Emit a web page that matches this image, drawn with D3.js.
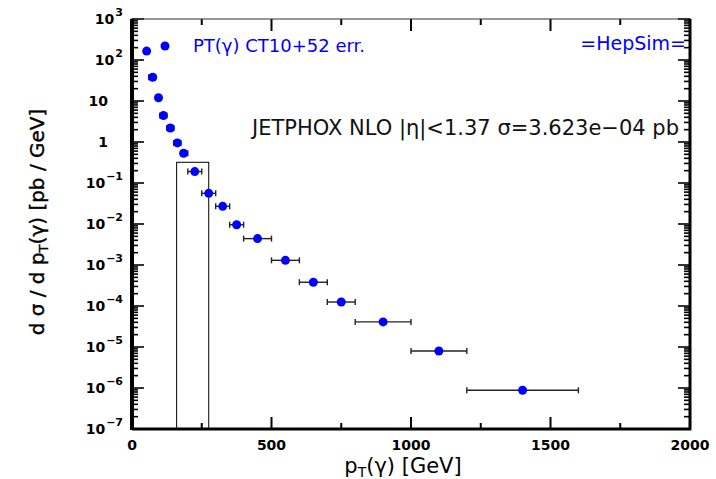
<!DOCTYPE html>
<html>
<head>
<meta charset="utf-8">
<script src="https://cdn.jsdelivr.net/npm/d3@7"></script>
<style>
  body { margin: 0; background: #fff; }
  text { font-family: "DejaVu Sans", sans-serif; }
</style>
</head>
<body>
<svg id="chart" width="716" height="479"></svg>
<script>
// bins of pT(gamma) [GeV] and cross section values [pb/GeV]
var binLo = [45, 60, 85, 100, 125, 150, 175, 200, 250, 300, 350, 400, 500, 600, 700, 800, 1000, 1200]
var binHi = [60, 85, 100, 125, 150, 175, 200, 250, 300, 350, 400, 500, 600, 700, 800, 1000, 1200, 1600]
var ptVal = [52.5, 74, 95, 112.5, 137.5, 162.5, 185, 225, 275, 325, 375, 450, 550, 650, 750, 900, 1100, 1400]
var xsec  = [165, 38, 12, 4.4, 2.2, 0.95, 0.53, 0.19, 0.056, 0.027, 0.0096, 0.0044, 0.0013, 3.8e-4, 1.25e-4, 4.1e-5, 8e-6, 8.8e-7]

// the open box drawn over the plot
var boxPt = [160, 275]
var boxTop = 0.32

var xTicks = [0, 500, 1000, 1500, 2000]
var xMinor = [250, 750, 1250, 1750]
var yExp = [-7, -6, -5, -4, -3, -2, -1, 0, 1, 2, 3]

var svg = d3.select("#chart")
var L = 132, R = 690, T = 19, B = 429

var x = d3.scaleLinear().domain([0, 2000]).range([L, R])
var y = d3.scaleLog().domain([1e-7, 1e3]).range([B, T])

// minor log ticks
var yMinor = []
yExp.slice(0, -1).forEach(function(e) {
  for (var k = 2; k <= 9; k++) yMinor.push(k * Math.pow(10, e))
})

var ax = svg.append("g")

// y ticks, left and right, pointing inward
function yTick(v, len) {
  ax.append("line").attr("x1", L).attr("x2", L + len).attr("y1", y(v)).attr("y2", y(v))
    .attr("stroke", "#000").attr("stroke-width", 1.6)
  ax.append("line").attr("x1", R).attr("x2", R - len).attr("y1", y(v)).attr("y2", y(v))
    .attr("stroke", "#000").attr("stroke-width", 1.6)
}
yMinor.forEach(function(v) { yTick(v, 6) })
yExp.forEach(function(e) { yTick(Math.pow(10, e), 12) })

function xTick(v, len) {
  ax.append("line").attr("x1", x(v)).attr("x2", x(v)).attr("y1", B).attr("y2", B - len)
    .attr("stroke", "#000").attr("stroke-width", 2)
  ax.append("line").attr("x1", x(v)).attr("x2", x(v)).attr("y1", T).attr("y2", T + len)
    .attr("stroke", "#000").attr("stroke-width", 2)
}
xMinor.forEach(function(v) { xTick(v, 6) })
xTicks.forEach(function(v) { xTick(v, 12) })

// frame
ax.append("line").attr("x1", L - 1).attr("x2", R + 1).attr("y1", T).attr("y2", T).attr("stroke", "#333").attr("stroke-width", 1.2)
ax.append("line").attr("x1", L).attr("x2", R + 1).attr("y1", B).attr("y2", B).attr("stroke", "#000").attr("stroke-width", 3)
ax.append("line").attr("x1", L).attr("x2", L).attr("y1", T).attr("y2", B + 1).attr("stroke", "#000").attr("stroke-width", 4)
ax.append("line").attr("x1", R).attr("x2", R).attr("y1", T).attr("y2", B + 1).attr("stroke", "#000").attr("stroke-width", 3)

// x tick labels
xTicks.forEach(function(v) {
  ax.append("text").attr("x", x(v)).attr("y", 450).attr("text-anchor", "middle")
    .style("font-size", "14px").style("font-weight", "bold").text(v)
})

// y tick labels
yExp.forEach(function(e) {
  var t = ax.append("text").attr("y", y(Math.pow(10, e)) + 5).attr("text-anchor", "end")
    .style("font-size", "14px").style("font-weight", "bold")
  if (e === 0 || e === 1) {
    t.attr("x", 108).text(e === 0 ? "1" : "10")
  } else {
    t.attr("x", 123)
    t.append("tspan").text("10")
    t.append("tspan").attr("dx", 1).attr("dy", -8).style("font-size", "11px").text(e < 0 ? "\u2212" + (-e) : e)
  }
})

// axis titles
var xt = svg.append("text").attr("x", 403).attr("y", 473).attr("text-anchor", "middle").style("font-size", "21px")
xt.append("tspan").text("p")
xt.append("tspan").attr("dy", 4).style("font-size", "14px").text("T")
xt.append("tspan").attr("dy", -4).text("(\u03b3) [GeV]")

var yt = svg.append("text").attr("transform", "translate(44,222) rotate(-90)").attr("text-anchor", "middle")
  .style("font-size", "20px").style("stroke", "#000").style("stroke-width", 0.4)
yt.append("tspan").text("d \u03c3 / d p")
yt.append("tspan").attr("dy", 4).style("font-size", "13px").text("T")
yt.append("tspan").attr("dy", -4).text("(\u03b3) [pb / GeV]")

// box
svg.append("rect").attr("x", x(boxPt[0])).attr("y", y(boxTop))
  .attr("width", x(boxPt[1]) - x(boxPt[0])).attr("height", B - y(boxTop))
  .attr("fill", "none").attr("stroke", "#000").attr("stroke-width", 1)

// error bars
var pts = svg.append("g")
xsec.forEach(function(v, i) {
  var yy = y(v)
  pts.append("line").attr("x1", x(binLo[i])).attr("x2", x(binHi[i])).attr("y1", yy).attr("y2", yy)
    .attr("stroke", "#222").attr("stroke-width", 1.4)
  ;[binLo[i], binHi[i]].forEach(function(b) {
    pts.append("line").attr("x1", x(b)).attr("x2", x(b)).attr("y1", yy - 3).attr("y2", yy + 3)
      .attr("stroke", "#222").attr("stroke-width", 1.4)
  })
})
pts.selectAll("circle").data(xsec).enter().append("circle")
  .attr("cx", function(d, i) { return x(ptVal[i]) })
  .attr("cy", function(d) { return y(d) })
  .attr("r", 4.5).attr("fill", "#0000ff")

// legend
svg.append("circle").attr("cx", 165).attr("cy", 46).attr("r", 4.5).attr("fill", "#0000ff")
svg.append("text").attr("x", 193).attr("y", 52).style("font-size", "18px").style("fill", "#0000ff")
  .text("PT(\u03b3) CT10+52 err.")
svg.append("text").attr("x", 686).attr("y", 50).attr("text-anchor", "end").style("font-size", "19px").style("fill", "#0000ff")
  .text("=HepSim=")
svg.append("text").attr("x", 679).attr("y", 135).attr("text-anchor", "end").style("font-size", "21px").style("fill", "#111")
  .text("JETPHOX NLO |\u03b7|<1.37 \u03c3=3.623e\u221204 pb")
</script>
</body>
</html>
